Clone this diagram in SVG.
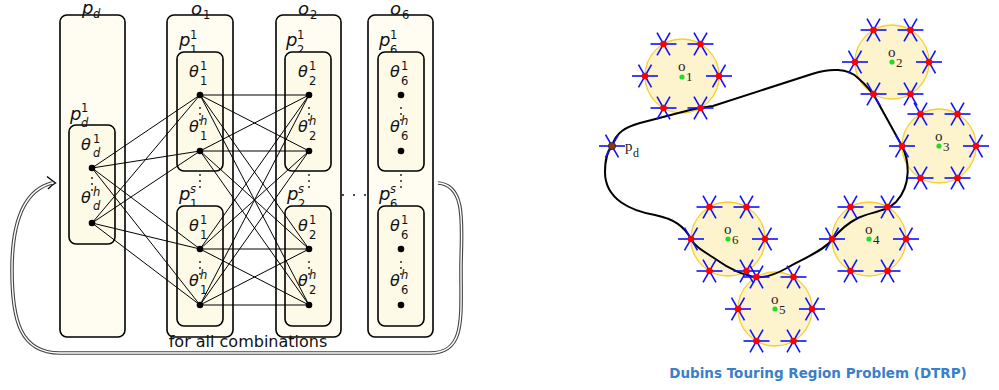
<svg xmlns="http://www.w3.org/2000/svg" xmlns:xlink="http://www.w3.org/1999/xlink" width="999" height="390" viewBox="0 0 999 390">
<style>
.outer{fill:#fffdf2;stroke:#000;stroke-width:1.6}
.inner{fill:#fdfae8;stroke:#000;stroke-width:1.6}
.m{font-family:"DejaVu Sans",sans-serif;font-style:italic;fill:#111}
.big{font-size:18px}
.th{font-size:16px}
.sc{font-family:"DejaVu Sans",sans-serif;font-size:11.5px;fill:#111}
.sci{font-family:"DejaVu Sans",sans-serif;font-style:italic;font-size:11.5px;fill:#111}
.edge line{stroke:#000;stroke-width:1}
.region circle.r{fill:#fdf3cd;stroke:#f6cf2e;stroke-width:1.3}
.ser{font-family:"Liberation Serif",serif;fill:#222}
</style>
<defs>
<g id="ast">
<line x1="-13" y1="0" x2="13" y2="0" stroke="#1010ff" stroke-width="1.6"/>
<line x1="-6.5" y1="-11.3" x2="6.5" y2="11.3" stroke="#1010ff" stroke-width="1.6"/>
<line x1="6.5" y1="-11.3" x2="-6.5" y2="11.3" stroke="#1010ff" stroke-width="1.6"/>
<circle r="3.3" fill="#ff0000"/>
</g>
<g id="vd">
<circle cx="0" cy="0" r="0.9" fill="#111"/>
<circle cx="0" cy="6" r="0.9" fill="#111"/>
<circle cx="0" cy="12" r="0.9" fill="#111"/>
</g>
</defs>

<!-- LEFT DIAGRAM -->
<g id="return-arrow" fill="none">
<path d="M 438,183 C 468,185 461,230 461,270 C 461,320 465,353 430,353 L 60,353 C 20,353 12,320 12,270 C 12,220 25,190 52,183" stroke="#444" stroke-width="3.6"/>
<path d="M 438,183 C 468,185 461,230 461,270 C 461,320 465,353 430,353 L 60,353 C 20,353 12,320 12,270 C 12,220 25,190 52,183" stroke="#fff" stroke-width="1.4"/>
<path d="M 47,176.5 Q 52,180.5 55.5,183 Q 51,185.5 48,189" stroke="#000" stroke-width="1.4"/>
</g>

<g id="col-pd">
<rect class="outer" x="60" y="15" width="65" height="322" rx="7"/>
<text class="m big" x="82" y="14">p</text><text class="sci" x="93" y="18">d</text>
<rect class="inner" x="69" y="125" width="46" height="119" rx="7"/>
<text class="m big" x="70" y="120">p</text><text class="sc" x="81" y="112">1</text><text class="sci" x="81" y="127">d</text>
<text class="m th" x="81" y="150">θ</text><text class="sc" x="93" y="143">1</text><text class="sci" x="93" y="157">d</text>
<use xlink:href="#vd" x="92" y="178"/>
<text class="m th" x="81" y="203">θ</text><text class="sci" x="93" y="196">h</text><text class="sci" x="93" y="210">d</text>
</g>

<g id="col-o1">
<rect class="outer" x="167" y="15" width="66" height="322" rx="7"/>
<text class="m big" x="191" y="15">o</text><text class="sc" x="203" y="19">1</text>
<text class="m big" x="179" y="46">p</text><text class="sc" x="190" y="39">1</text><text class="sc" x="190" y="54">1</text>
<rect class="inner" x="177" y="52" width="46" height="119" rx="7"/>
<text class="m th" x="189" y="77">θ</text><text class="sc" x="200" y="70">1</text><text class="sc" x="200" y="85">1</text>
<use xlink:href="#vd" x="200" y="108"/>
<text class="m th" x="189" y="132">θ</text><text class="sci" x="200" y="125">h</text><text class="sc" x="200" y="140">1</text>
<use xlink:href="#vd" x="200" y="175"/>
<text class="m big" x="179" y="200">p</text><text class="sci" x="190" y="193">s</text><text class="sc" x="190" y="208">1</text>
<rect class="inner" x="177" y="206" width="46" height="120" rx="7"/>
<text class="m th" x="189" y="231">θ</text><text class="sc" x="200" y="224">1</text><text class="sc" x="200" y="239">1</text>
<use xlink:href="#vd" x="200" y="262"/>
<text class="m th" x="189" y="286">θ</text><text class="sci" x="200" y="279">h</text><text class="sc" x="200" y="294">1</text>
</g>

<g id="col-o2">
<rect class="outer" x="276" y="15" width="65" height="322" rx="7"/>
<text class="m big" x="298" y="15">o</text><text class="sc" x="310" y="19">2</text>
<text class="m big" x="286" y="46">p</text><text class="sc" x="297" y="39">1</text><text class="sc" x="297" y="54">2</text>
<rect class="inner" x="285" y="52" width="46" height="119" rx="7"/>
<text class="m th" x="298" y="77">θ</text><text class="sc" x="309" y="70">1</text><text class="sc" x="309" y="85">2</text>
<use xlink:href="#vd" x="309" y="108"/>
<text class="m th" x="298" y="132">θ</text><text class="sci" x="309" y="125">h</text><text class="sc" x="309" y="140">2</text>
<use xlink:href="#vd" x="309" y="175"/>
<text class="m big" x="287" y="200">p</text><text class="sci" x="298" y="193">s</text><text class="sc" x="298" y="208">2</text>
<rect class="inner" x="285" y="206" width="46" height="120" rx="7"/>
<text class="m th" x="298" y="231">θ</text><text class="sc" x="309" y="224">1</text><text class="sc" x="309" y="239">2</text>
<use xlink:href="#vd" x="309" y="262"/>
<text class="m th" x="298" y="286">θ</text><text class="sci" x="309" y="279">h</text><text class="sc" x="309" y="294">2</text>
</g>

<g id="gap-dots">
<circle cx="343" cy="195" r="1" fill="#111"/><circle cx="354" cy="195" r="1" fill="#111"/><circle cx="365" cy="195" r="1" fill="#111"/>
</g>

<g id="col-o6">
<rect class="outer" x="368" y="15" width="65" height="322" rx="7"/>
<text class="m big" x="390" y="15">o</text><text class="sc" x="402" y="19">6</text>
<text class="m big" x="379" y="46">p</text><text class="sc" x="390" y="39">1</text><text class="sc" x="390" y="54">6</text>
<rect class="inner" x="378" y="52" width="46" height="119" rx="7"/>
<text class="m th" x="390" y="77">θ</text><text class="sc" x="401" y="70">1</text><text class="sc" x="401" y="85">6</text>
<circle cx="401" cy="95" r="3.3" fill="#000"/>
<use xlink:href="#vd" x="401" y="108"/>
<text class="m th" x="390" y="132">θ</text><text class="sci" x="401" y="125">h</text><text class="sc" x="401" y="140">6</text>
<circle cx="401" cy="151" r="3.3" fill="#000"/>
<use xlink:href="#vd" x="401" y="175"/>
<text class="m big" x="379" y="200">p</text><text class="sci" x="390" y="193">s</text><text class="sc" x="390" y="208">6</text>
<rect class="inner" x="378" y="206" width="46" height="120" rx="7"/>
<text class="m th" x="390" y="231">θ</text><text class="sc" x="401" y="224">1</text><text class="sc" x="401" y="239">6</text>
<circle cx="401" cy="249" r="3.3" fill="#000"/>
<use xlink:href="#vd" x="401" y="262"/>
<text class="m th" x="390" y="286">θ</text><text class="sci" x="401" y="279">h</text><text class="sc" x="401" y="294">6</text>
<circle cx="401" cy="305" r="3.3" fill="#000"/>
</g>

<g id="connectors-left" class="edge">
<line x1="92" y1="168" x2="200" y2="95"/><line x1="92" y1="168" x2="200" y2="151"/><line x1="92" y1="168" x2="200" y2="249"/><line x1="92" y1="168" x2="200" y2="305"/>
<line x1="92" y1="223" x2="200" y2="95"/><line x1="92" y1="223" x2="200" y2="151"/><line x1="92" y1="223" x2="200" y2="249"/><line x1="92" y1="223" x2="200" y2="305"/>
<line x1="200" y1="95" x2="309" y2="95"/><line x1="200" y1="95" x2="309" y2="151"/><line x1="200" y1="95" x2="309" y2="249"/><line x1="200" y1="95" x2="309" y2="305"/>
<line x1="200" y1="151" x2="309" y2="95"/><line x1="200" y1="151" x2="309" y2="151"/><line x1="200" y1="151" x2="309" y2="249"/><line x1="200" y1="151" x2="309" y2="305"/>
<line x1="200" y1="249" x2="309" y2="95"/><line x1="200" y1="249" x2="309" y2="151"/><line x1="200" y1="249" x2="309" y2="249"/><line x1="200" y1="249" x2="309" y2="305"/>
<line x1="200" y1="305" x2="309" y2="95"/><line x1="200" y1="305" x2="309" y2="151"/><line x1="200" y1="305" x2="309" y2="249"/><line x1="200" y1="305" x2="309" y2="305"/>
</g>

<g id="dots-left" fill="#000">
<circle cx="92" cy="168" r="3.3"/><circle cx="92" cy="223" r="3.3"/>
<circle cx="200" cy="95" r="3.3"/><circle cx="200" cy="151" r="3.3"/><circle cx="200" cy="249" r="3.3"/><circle cx="200" cy="305" r="3.3"/>
<circle cx="309" cy="95" r="3.3"/><circle cx="309" cy="151" r="3.3"/><circle cx="309" cy="249" r="3.3"/><circle cx="309" cy="305" r="3.3"/>
</g>

<text x="248" y="347" text-anchor="middle" font-family="DejaVu Sans, sans-serif" font-size="16" fill="#111">for all combinations</text>

<!-- RIGHT DIAGRAM -->
<g id="circles">
<g id="reg-o1" class="region"><circle class="r" cx="682" cy="76" r="37"/></g>
<g id="reg-o2" class="region"><circle class="r" cx="892" cy="62" r="37"/></g>
<g id="reg-o3" class="region"><circle class="r" cx="939" cy="146" r="37"/></g>
<g id="reg-o4" class="region"><circle class="r" cx="869" cy="239" r="37"/></g>
<g id="reg-o6" class="region"><circle class="r" cx="728" cy="239" r="37"/></g>
<g id="reg-o5" class="region"><circle class="r" cx="775" cy="309" r="37"/></g>
</g>

<g id="tour">
<path fill="none" stroke="#000" stroke-width="2" d="M 612,146 C 616,132 626,127 640,123 L 690,110 C 700,107 706,107 713,106 L 812,74 C 830,68 848,68 858,78 C 866,85 872,92 876,99 L 902,146 C 909,160 912,185 896,202 C 886,212 870,212 858,218 C 846,224 838,232 832,240 C 822,252 800,260 787,268 C 778,273 768,278 757,277 C 744,276 728,268 717,260 C 705,252 695,247 691,239 C 684,226 674,219 655,215 C 632,211 605,200 605,172 C 605,160 608,150 612,146 Z"/>
</g>

<g id="samples">
<use xlink:href="#ast" x="719" y="76"/><use xlink:href="#ast" x="700.5" y="44"/><use xlink:href="#ast" x="663.5" y="44"/><use xlink:href="#ast" x="645" y="76"/><use xlink:href="#ast" x="663.5" y="108"/><use xlink:href="#ast" x="700.5" y="108"/>
<use xlink:href="#ast" x="929" y="62"/><use xlink:href="#ast" x="910.5" y="30"/><use xlink:href="#ast" x="873.5" y="30"/><use xlink:href="#ast" x="855" y="62"/><use xlink:href="#ast" x="873.5" y="94"/><use xlink:href="#ast" x="910.5" y="94"/>
<use xlink:href="#ast" x="976" y="146"/><use xlink:href="#ast" x="957.5" y="114"/><use xlink:href="#ast" x="920.5" y="114"/><use xlink:href="#ast" x="902" y="146"/><use xlink:href="#ast" x="920.5" y="178"/><use xlink:href="#ast" x="957.5" y="178"/>
<use xlink:href="#ast" x="906" y="239"/><use xlink:href="#ast" x="887.5" y="207"/><use xlink:href="#ast" x="850.5" y="207"/><use xlink:href="#ast" x="832" y="239"/><use xlink:href="#ast" x="850.5" y="271"/><use xlink:href="#ast" x="887.5" y="271"/>
<use xlink:href="#ast" x="765" y="239"/><use xlink:href="#ast" x="746.5" y="207"/><use xlink:href="#ast" x="709.5" y="207"/><use xlink:href="#ast" x="691" y="239"/><use xlink:href="#ast" x="709.5" y="271"/><use xlink:href="#ast" x="746.5" y="271"/>
<use xlink:href="#ast" x="812" y="309"/><use xlink:href="#ast" x="793.5" y="277"/><use xlink:href="#ast" x="756.5" y="277"/><use xlink:href="#ast" x="738" y="309"/><use xlink:href="#ast" x="756.5" y="341"/><use xlink:href="#ast" x="793.5" y="341"/>
</g>

<g id="centers" fill="#22dd22">
<circle cx="682" cy="77" r="2.6"/><circle cx="892" cy="62" r="2.6"/><circle cx="939" cy="146" r="2.6"/><circle cx="869" cy="239" r="2.6"/><circle cx="775" cy="309" r="2.6"/><circle cx="728" cy="239" r="2.6"/>
</g>
<g id="region-labels" class="ser">
<text x="678" y="71" font-size="15">o</text><text x="686" y="81" font-size="13">1</text>
<text x="888" y="57" font-size="15">o</text><text x="896" y="67" font-size="13">2</text>
<text x="935" y="141" font-size="15">o</text><text x="943" y="151" font-size="13">3</text>
<text x="865" y="234" font-size="15">o</text><text x="873" y="244" font-size="13">4</text>
<text x="771" y="304" font-size="15">o</text><text x="779" y="314" font-size="13">5</text>
<text x="724" y="234" font-size="15">o</text><text x="732" y="244" font-size="13">6</text>
</g>

<g id="pd">
<line x1="599" y1="146" x2="625" y2="146" stroke="#1010ff" stroke-width="1.6"/>
<line x1="605.5" y1="134.7" x2="618.5" y2="157.3" stroke="#1010ff" stroke-width="1.6"/>
<line x1="618.5" y1="134.7" x2="605.5" y2="157.3" stroke="#1010ff" stroke-width="1.6"/>
<circle cx="612" cy="146" r="3.6" fill="#8b3a0e" stroke="#222" stroke-width="0.8"/>
<text class="ser" x="625" y="151" font-size="15">p</text><text class="ser" x="633" y="157" font-size="12">d</text>
</g>

<text x="818" y="378" text-anchor="middle" font-family="DejaVu Sans, sans-serif" font-size="13.5" font-weight="bold" fill="#3a80c8">Dubins Touring Region Problem (DTRP)</text>
</svg>
